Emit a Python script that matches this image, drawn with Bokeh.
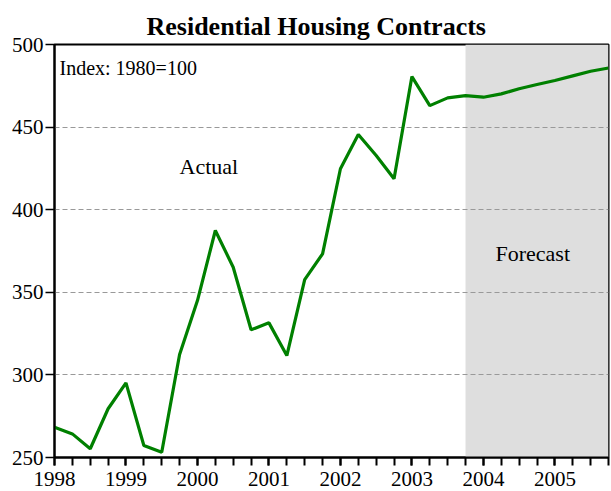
from bokeh.plotting import figure
from bokeh.models import Range1d, BoxAnnotation, Label, FixedTicker, ColumnDataSource
from bokeh.embed import file_html
from bokeh.resources import INLINE

# Quarterly index values, 1998Q1 .. 2005Q4
quarters = [1998 + i * 0.25 for i in range(32)]
index_values = [
    268.3, 264.3, 255.3, 279.5,   # 1998
    295.2, 257.3, 253.2, 312.3,   # 1999
    345.0, 387.4, 365.2, 327.3,   # 2000
    331.5, 311.7, 357.7, 373.3,   # 2001
    424.8, 445.5, 432.8, 418.7,   # 2002
    480.6, 463.0, 467.7, 469.1,   # 2003
    468.1, 470.1, 473.2, 475.8,   # 2004
    478.2, 481.0, 483.8, 485.8,   # 2005
]
forecast_start = 2003.75
year_ticks = list(range(1998, 2006))
quarter_ticks = [1998 + i * 0.25 for i in range(32)]
y_ticks = [250, 300, 350, 400, 450, 500]

FONT = "Liberation Serif"
TICK = "black"

p = figure(width=611, height=491, output_backend="svg", toolbar_location=None,
           x_range=Range1d(1998, 2005.75), y_range=Range1d(250, 500),
           min_border_left=54, min_border_right=3, min_border_bottom=34, min_border_top=44)

p.title.text = "Residential Housing Contracts"
p.title.text_font = FONT
p.title.text_font_size = "26px"
p.title.text_font_style = "bold"
p.title.align = "left"
p.title.offset = 92
p.title.vertical_align = "top"
p.title.standoff = 4
p.title.text_color = "black"

p.outline_line_color = "black"
p.outline_line_width = 2
p.background_fill_color = "white"
p.border_fill_color = "white"

shade = BoxAnnotation(left=forecast_start, fill_color="#dedede", fill_alpha=1.0,
                      line_color=None, level="image")
p.add_layout(shade)

src = ColumnDataSource(dict(x=quarters, y=index_values))
p.line("x", "y", source=src, line_color="#008000", line_width=3.2)

p.xaxis.ticker = FixedTicker(ticks=year_ticks, minor_ticks=quarter_ticks)
p.yaxis.ticker = FixedTicker(ticks=y_ticks)
for ax in (p.xaxis[0], p.yaxis[0]):
    ax.axis_line_color = "black"
    ax.axis_line_width = 2
    ax.major_tick_line_color = TICK
    ax.major_tick_in = 0
    ax.major_label_text_font = FONT
    ax.major_label_text_font_size = "21px"
    ax.major_label_text_color = "black"
p.xaxis.major_tick_line_width = 2
p.xaxis.major_tick_out = 8
p.yaxis.major_tick_line_width = 1.5
p.yaxis.major_tick_out = 9
p.xaxis.minor_tick_line_color = TICK
p.xaxis.minor_tick_line_width = 2
p.xaxis.minor_tick_in = 0
p.xaxis.minor_tick_out = 8
p.yaxis.minor_tick_line_color = None
p.xaxis.major_label_standoff = 6
p.yaxis.major_label_standoff = 2

p.xgrid.grid_line_color = None
p.ygrid.grid_line_color = "#999999"
p.ygrid.grid_line_dash = "5 3"
p.ygrid.grid_line_width = 1

for txt, x, y, size, align in [("Index: 1980=100", 1998.07, 485.5, "20px", "left"),
                               ("Actual", 2000.16, 426, "22px", "center"),
                               ("Forecast", 2004.69, 373.5, "22px", "center")]:
    p.add_layout(Label(x=x, y=y, text=txt, text_font=FONT, text_font_size=size,
                       text_color="black", text_baseline="middle", text_align=align))

open("out.html", "w").write(file_html(p, INLINE))
